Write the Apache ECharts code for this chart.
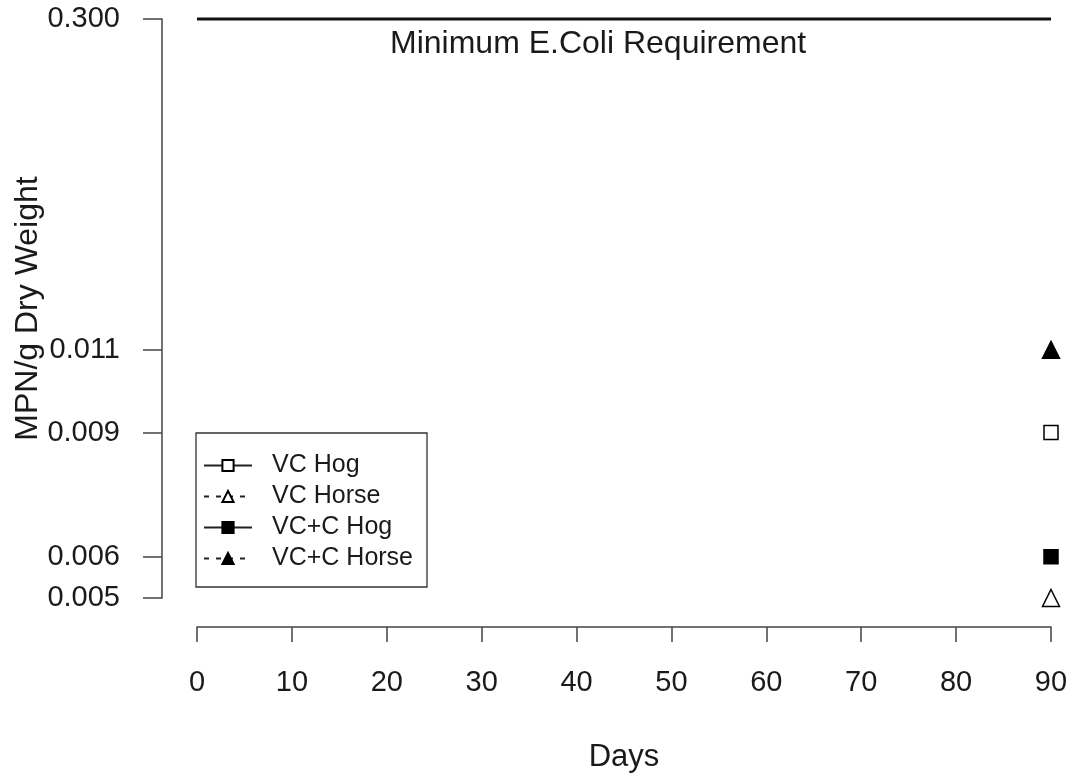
<!DOCTYPE html>
<html>
<head>
<meta charset="utf-8">
<title>MPN/g Dry Weight</title>
<script src="https://cdn.jsdelivr.net/npm/echarts@6/dist/echarts.min.js"></script>
<style>
  html, body { margin: 0; padding: 0; background: #fff; }
  #chart { width: 1074px; height: 782px; }
</style>
</head>
<body>
<div id="chart"></div>
<script>
// data
var seriesNames = ['VC Hog', 'VC Horse', 'VC+C Hog', 'VC+C Horse'];
var sampleDays = [90];
var vcHog = [0.009];
var vcHorse = [0.005];
var vcCHog = [0.006];
var vcCHorse = [0.011];
var requirementDays = [0, 90];
var requirementValue = 0.300;
var yTickValues = [0.005, 0.006, 0.009, 0.011, 0.300];

// y axis is broken above 0.011: 0.011..0.300 squeezed into 0.011..0.019
var breakLow = 0.011, breakTop = 0.019;
function yPos(v) {
    if (v <= breakLow) return v;
    return breakLow + (v - breakLow) / (requirementValue - breakLow) * (breakTop - breakLow);
}
function pairs(xs, ys) {
    return xs.map(function (x, i) { return [x, yPos(ys[i])]; });
}
var yTickPos = yTickValues.map(yPos);
var yTickLabels = yTickValues.map(function (v) { return v.toFixed(3); });

var font = 'Liberation Sans, Arial, sans-serif';
var ink = '#1a1a1a';

var myChart = echarts.init(document.getElementById('chart'));

var pointStyle = [
    { symbol: 'rect', size: 14, fill: '#fff', dash: 'solid' },
    { symbol: 'triangle', size: 17, fill: '#fff', dash: [5, 7] },
    { symbol: 'rect', size: 14, fill: '#000', dash: 'solid' },
    { symbol: 'triangle', size: 17, fill: '#000', dash: [5, 7] }
];
var values = [vcHog, vcHorse, vcCHog, vcCHorse];

var series = seriesNames.map(function (name, i) {
    var s = pointStyle[i];
    return {
        name: name,
        type: 'line',
        data: pairs(sampleDays, values[i]),
        symbol: s.symbol,
        symbolSize: s.size,
        showSymbol: true,
        clip: false,
        itemStyle: { color: s.fill, borderColor: '#000', borderWidth: 1.5 },
        lineStyle: { color: '#222', width: 1.5, type: s.dash }
    };
});

series.push({
    name: 'Minimum E.Coli Requirement',
    type: 'line',
    data: pairs(requirementDays, [requirementValue, requirementValue]),
    symbol: 'none',
    clip: false,
    lineStyle: { color: '#111', width: 3 }
});

var option = {
    animation: false,
    backgroundColor: '#fff',
    textStyle: { fontFamily: font },
    grid: { left: 197, right: 23, top: 19, bottom: 184, containLabel: false, outerBoundsMode: 'none' },
    legend: {
        data: seriesNames,
        orient: 'vertical',
        left: 196,
        top: 433,
        padding: [20, 14, 16, 7],
        itemWidth: 48,
        itemHeight: 14,
        itemGap: 6,
        borderColor: '#333',
        borderWidth: 1.3,
        textStyle: { fontFamily: font, fontSize: 25, color: ink, lineHeight: 24, padding: [0, 0, 0, 15] }
    },
    graphic: [{
        type: 'text',
        left: 390,
        top: 28,
        style: { text: 'Minimum E.Coli Requirement', font: '32px ' + font, fill: ink }
    }],
    xAxis: {
        type: 'value',
        min: 0,
        max: 90,
        interval: 10,
        offset: 29,
        name: 'Days',
        nameLocation: 'middle',
        nameGap: 115,
        nameTextStyle: { fontFamily: font, fontSize: 31, color: ink },
        axisLine: { onZero: false, lineStyle: { color: '#444', width: 1.5 } },
        axisTick: { length: 15, lineStyle: { color: '#444', width: 1.5 } },
        axisLabel: { margin: 41, fontSize: 29, color: ink, fontFamily: font },
        splitLine: { show: false }
    },
    yAxis: {
        type: 'value',
        min: 0.005,
        max: breakTop,
        interval: 0.001,
        offset: 35,
        name: 'MPN/g Dry Weight',
        nameLocation: 'middle',
        nameGap: 118,
        nameMoveOverlap: false,
        nameTextStyle: { fontFamily: font, fontSize: 32, color: ink },
        axisLine: { show: true, onZero: false, lineStyle: { color: '#444', width: 1.5 } },
        axisTick: { show: true, length: 19, customValues: yTickPos, lineStyle: { color: '#444', width: 1.5 } },
        axisLabel: {
            margin: 42,
            fontSize: 29,
            color: ink,
            fontFamily: font,
            customValues: yTickPos,
            formatter: function (v) {
                for (var i = 0; i < yTickPos.length; i++) {
                    if (Math.abs(v - yTickPos[i]) < 1e-9) return yTickLabels[i];
                }
                return '';
            }
        },
        splitLine: { show: false }
    },
    series: series
};

myChart.setOption(option);
</script>
</body>
</html>
